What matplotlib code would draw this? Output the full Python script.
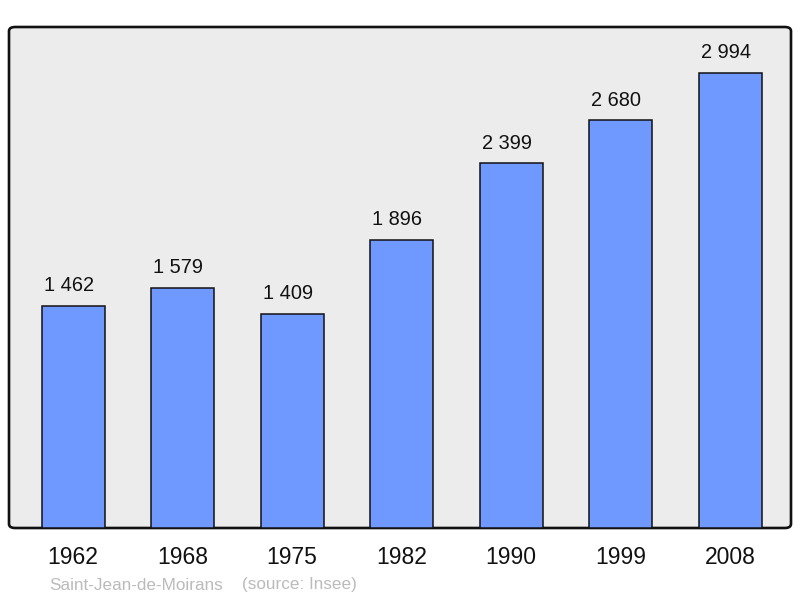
import matplotlib
matplotlib.use("Agg")
import matplotlib.pyplot as plt
from matplotlib.patches import FancyBboxPatch

years = ["1962", "1968", "1975", "1982", "1990", "1999", "2008"]
population = [1462, 1579, 1409, 1896, 2399, 2680, 2994]
value_labels = ["1 462", "1 579", "1 409", "1 896", "2 399", "2 680", "2 994"]
place = "Saint-Jean-de-Moirans"
source = "(source: Insee)"

plt.rcParams['font.family'] = ['Liberation Sans', 'DejaVu Sans']

fig = plt.figure(figsize=(8, 5.98), dpi=100)
ax = fig.add_axes([9/800, 70/598, 782/800, 501/598])
ax.set_facecolor('none')

frame = FancyBboxPatch((0, 0), 1, 1, boxstyle="round,pad=0,rounding_size=0.008",
                       transform=ax.transAxes, facecolor='#ececec', edgecolor='#111111',
                       linewidth=1.9, zorder=0, clip_on=False)
ax.add_patch(frame)

x = list(range(len(years)))
ax.bar(x, population, width=0.575, color='#7099ff', edgecolor='#111111', linewidth=1.1, zorder=2)

for xi, v, lab in zip(x, population, value_labels):
    ax.annotate(lab, (xi, v), xytext=(-3.2, 7.6), textcoords='offset points',
                ha='center', va='bottom', fontsize=14.4, color='#111111')

ax.set_xlim(-0.585, 6.556)
ax.set_ylim(0, max(population) * 1.1)
for s in ax.spines.values():
    s.set_visible(False)
ax.set_yticks([])
ax.set_xticks(x)
ax.set_xticklabels(years, fontsize=16.5, color='#111111')
ax.tick_params(axis='x', length=0, pad=13)

fig.text(49/800, 1 - 585/598, place, fontsize=12.3, color='#bbbbbb', ha='left', va='center')
fig.text(242/800, 1 - 585/598, source, fontsize=12.3, color='#bbbbbb', ha='left', va='center')

fig.savefig('out.png', dpi=100)
